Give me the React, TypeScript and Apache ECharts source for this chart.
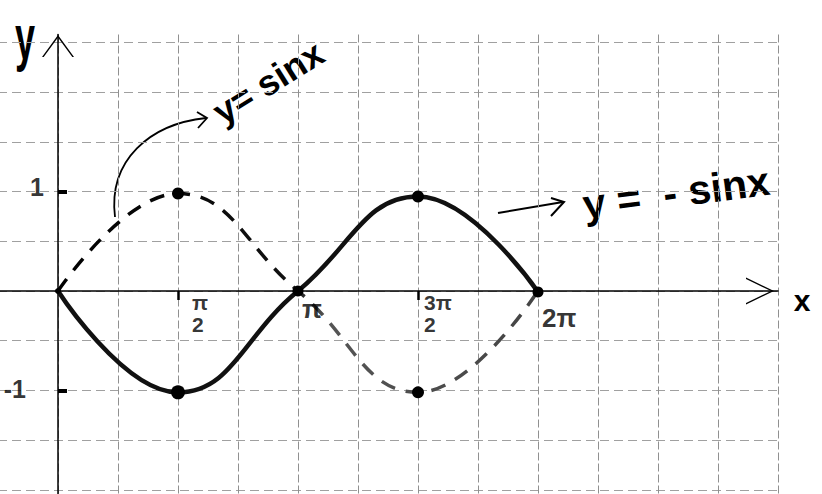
import React, { useEffect, useRef } from 'react';
import * as echarts from 'echarts';

// x values are in units of π
const xPi = [0, 0.5, 1, 1.5, 2];
const negSinY = [0, -1.02, 0, 0.95, -0.01];
const sinY = [0, 0.98, 0, -1.02, 0];
const negSinDot = [6, 14, 11, 12, 11];
const sinDot = [0, 12, 0, 12, 0];

const xTickValues = [0.5, 1.5];
const xLabelValues = [0.5, 1, 1.5, 2];
const xLabelText = ['π\n2', 'π', '3π\n2', '2π'];
const yLabelValues = [1, -1];
const yLabelText = ['1', '-1'];

// label placement (px offsets from the tick point) and styles
const xLabelOffset = [[14, 1], [4, 5], [6, 1], [4, 14]];
const xLabelFont = [21, 26, 21, 26];
const xLabelLine = [22, 26, 22, 26];
const yLabelOffset = [[-14, -5], [-32, -1]];

const X_MIN = -0.25, X_MAX = 3, X_STEP = 0.25;
const Y_MIN = -2.5, Y_MAX = 2.58, Y_STEP = 0.5;

const FONT = '"Liberation Sans", "DejaVu Sans", sans-serif';
const yArrowPath = 'path://M0,22 L16,0 L32,22 L30.3,22 L16,2.6 L1.7,22 Z';
const xArrowPath = 'path://M0,28 L13.5,0 L27,28 L25.4,28 L13.5,3 L1.6,28 Z';

export default function App() {
  const ref = useRef<HTMLDivElement>(null);
  useEffect(() => {
    if (!ref.current) return;
    const chart = echarts.init(ref.current, undefined, { renderer: 'svg' });
    const negSinData = xPi.map((x, i) => [x, negSinY[i]]);
    const sinData = xPi.map((x, i) => [x, sinY[i]]);
    const xLabelData = xLabelValues.map((v, i) => ({
      value: [v, 0],
      label: {
        show: true,
        position: xLabelOffset[i],
        align: 'left',
        verticalAlign: 'top',
        formatter: xLabelText[i],
        fontSize: xLabelFont[i],
        lineHeight: xLabelLine[i],
        fontWeight: 'bold',
        fontFamily: FONT,
        color: '#000',
      },
    }));
    const yLabelData = yLabelValues.map((v, i) => ({
      value: [0, v],
      label: {
        show: true,
        position: yLabelOffset[i],
        align: 'right',
        verticalAlign: 'middle',
        formatter: yLabelText[i],
        fontSize: 25,
        fontWeight: 'bold',
        fontFamily: FONT,
        color: '#000',
      },
    }));
    const gridAxisCommon = {
      type: 'value',
      axisLine: { show: false },
      axisTick: { show: false },
      axisLabel: { show: false },
    };
    chart.setOption({
      animation: false,
      backgroundColor: '#fff',
      grid: { left: -2, top: 34.5, width: 780, height: 505, containLabel: false, outerBoundsMode: 'none' },
      xAxis: [
        {
          type: 'value',
          min: X_MIN,
          max: X_MAX,
          interval: X_STEP,
          axisLine: {
            show: true,
            onZero: true,
            lineStyle: { color: '#000', width: 1.5 },
            symbol: ['none', xArrowPath],
            symbolSize: [27, 28],
            symbolOffset: [0, -18],
          },
          axisTick: {
            show: true,
            customValues: xTickValues,
            length: 9,
            lineStyle: { color: '#000', width: 2.5 },
          },
          axisLabel: { show: false },
          splitLine: { show: false },
        },
        {
          ...gridAxisCommon,
          position: 'top',
          min: X_MIN,
          max: X_MAX,
          interval: X_STEP,
          splitLine: { show: true, lineStyle: { color: '#909090', width: 1, type: [8, 3] } },
        },
      ],
      yAxis: [
        {
          type: 'value',
          min: Y_MIN,
          max: Y_MAX,
          interval: Y_STEP,
          axisLine: {
            show: true,
            onZero: true,
            lineStyle: { color: '#000', width: 1.5 },
            symbol: ['none', yArrowPath],
            symbolSize: [32, 22],
            symbolOffset: [0, -11.5],
          },
          axisTick: {
            show: true,
            customValues: yLabelValues,
            inside: true,
            length: 9,
            lineStyle: { color: '#000', width: 4 },
          },
          axisLabel: { show: false },
          splitLine: { show: false },
        },
        {
          ...gridAxisCommon,
          position: 'right',
          min: Y_MIN,
          max: Y_MAX,
          interval: Y_STEP,
          splitLine: {
            show: true,
            showMaxLine: false,
            lineStyle: { color: '#a0a0a0', width: 1, type: [9, 5] },
          },
        },
      ],
      series: [
        {
          name: 'y = sin x',
          type: 'line',
          xAxisIndex: 0,
          yAxisIndex: 0,
          data: sinData,
          smooth: 0.45,
          symbol: 'circle',
          showSymbol: true,
          symbolSize: (_v: any, p: any) => sinDot[p.dataIndex],
          itemStyle: { color: '#000', borderWidth: 0 },
          lineStyle: {
            width: 3.5,
            type: [15, 11],
            color: {
              type: 'linear', x: 0, y: 0, x2: 1, y2: 0,
              colorStops: [
                { offset: 0, color: '#000' },
                { offset: 0.48, color: '#111' },
                { offset: 0.56, color: '#555' },
                { offset: 1, color: '#444' },
              ],
            },
          },
          z: 3,
        },
        {
          name: 'y = -sin x',
          type: 'line',
          xAxisIndex: 0,
          yAxisIndex: 0,
          data: negSinData,
          smooth: 0.45,
          symbol: 'circle',
          showSymbol: true,
          symbolSize: (_v: any, p: any) => negSinDot[p.dataIndex],
          itemStyle: { color: '#000', borderWidth: 0 },
          lineStyle: { width: 4.5, color: '#111' },
          z: 4,
        },
        {
          name: 'x labels',
          type: 'scatter',
          xAxisIndex: 0,
          yAxisIndex: 0,
          symbolSize: 0,
          silent: true,
          data: xLabelData,
          z: 5,
        },
        {
          name: 'y labels',
          type: 'scatter',
          xAxisIndex: 0,
          yAxisIndex: 0,
          symbolSize: 0,
          silent: true,
          data: yLabelData,
          z: 5,
        },
      ],
      graphic: [
        {
          type: 'text', x: 25, y: 38, scaleX: 0.72, scaleY: 1.25,
          style: { text: 'y', font: `bold 50px ${FONT}`, fill: '#000', align: 'center', verticalAlign: 'middle', textAlign: 'center', textVerticalAlign: 'middle' },
        },
        {
          type: 'text', x: 802, y: 300,
          style: { text: 'x', font: `bold 30px ${FONT}`, fill: '#000', align: 'center', verticalAlign: 'middle', textAlign: 'center', textVerticalAlign: 'middle' },
        },
        {
          type: 'text', x: 216, y: 115, rotation: 0.56,
          style: { text: 'y= sinx', font: `bold 36px ${FONT}`, fill: '#000', align: 'left', verticalAlign: 'middle', textAlign: 'left', textVerticalAlign: 'middle' },
        },
        {
          type: 'bezierCurve',
          shape: { x1: 115, y1: 217, cpx1: 108, cpy1: 160, cpx2: 150, cpy2: 124, x2: 206, y2: 118 },
          style: { stroke: '#000', lineWidth: 1.8, fill: 'none' },
        },
        {
          type: 'polyline',
          shape: { points: [[197, 112], [207, 118], [198, 128]] },
          style: { stroke: '#000', lineWidth: 1.8, fill: 'none' },
        },
        {
          type: 'line',
          shape: { x1: 498, y1: 213, x2: 563, y2: 202 },
          style: { stroke: '#000', lineWidth: 2 },
        },
        {
          type: 'polyline',
          shape: { points: [[551, 198], [564, 202], [551, 216]] },
          style: { stroke: '#000', lineWidth: 2, fill: 'none' },
        },
        {
          type: 'text', x: 583, y: 205, rotation: 0.13,
          style: { text: 'y =  - sinx', font: `bold 41px ${FONT}`, fill: '#000', align: 'left', verticalAlign: 'middle', textAlign: 'left', textVerticalAlign: 'middle' },
        },
      ],
    });
    return () => chart.dispose();
  }, []);
  return (
    <div
      ref={ref}
      style={{ position: 'fixed', left: 0, top: 0, width: 822, height: 494, background: '#fff' }}
    />
  );
}
